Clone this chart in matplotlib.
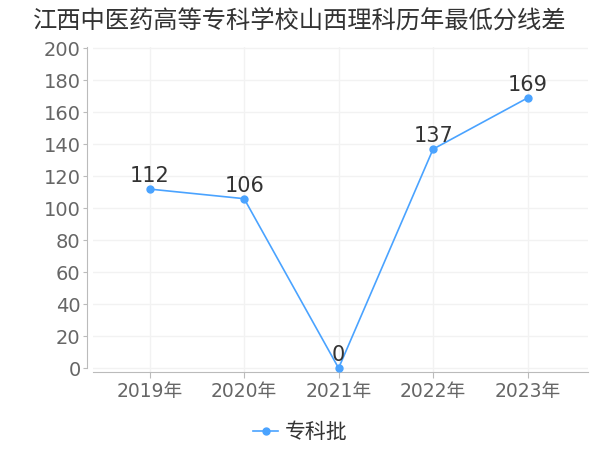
import matplotlib
matplotlib.use('Agg')
import matplotlib.pyplot as plt

plt.rcParams['font.family'] = ['DejaVu Sans', 'Noto Sans CJK SC']

years = ['2019年', '2020年', '2021年', '2022年', '2023年']
scores = [112, 106, 0, 137, 169]
series_name = '专科批'
title = '江西中医药高等专科学校山西理科历年最低分线差'

line_color = '#4aa3ff'

fig = plt.figure(figsize=(6, 4.5), dpi=100)
ax = fig.add_axes([0.155, 0.173, 0.825, 0.723])

x = list(range(len(years)))
ax.plot(x, scores, color=line_color, linewidth=1.2, marker='o', markersize=5,
        label=series_name, zorder=3)
for xi, v in zip(x, scores):
    ax.annotate(str(v), (xi, v), xytext=(0, 2), textcoords='offset points',
                ha='center', va='bottom', fontsize=15, color='#333333', zorder=4)

ax.set_xlim(-0.6, 4.64)
ax.set_ylim(-2.5, 201)
ax.set_yticks(range(0, 201, 20))
ax.set_xticks(x)
ax.set_xticklabels(years)

ax.grid(True, color='#f2f2f2', linewidth=1)
ax.set_axisbelow(True)
for s in ['top', 'right']:
    ax.spines[s].set_visible(False)
ax.spines['left'].set_color('#bbbbbb')
ax.spines['bottom'].set_color('#bbbbbb')
ax.spines['left'].set_bounds(0, 201)
ax.spines['left'].set_position(('outward', 4))
ax.tick_params(axis='y', colors='#bbbbbb', labelcolor='#666666', labelsize=14,
               length=3, pad=2)
ax.tick_params(axis='x', colors='#bbbbbb', labelcolor='#666666', labelsize=13.5,
               length=4, pad=3)

fig.suptitle(title, fontsize=17.5, color='#333333', y=0.98)
fig.legend(loc='lower center', bbox_to_anchor=(0.5, -0.025), frameon=False,
           fontsize=15, handlelength=1.2, handletextpad=0.3, labelcolor='#333333')

fig.savefig('out.png', dpi=100)
